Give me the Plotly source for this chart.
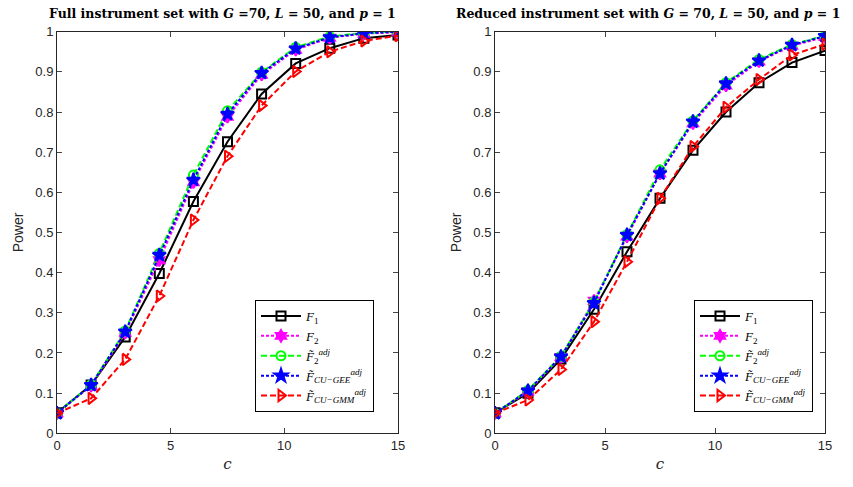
import plotly.graph_objects as go

c_vals = [0, 1.5, 3, 4.5, 6, 7.5, 9, 10.5, 12, 13.5, 15]

# Full instrument set
full_F1 = [0.051, 0.12, 0.24, 0.398, 0.577, 0.726, 0.845, 0.921, 0.959, 0.984, 0.992]
full_F2 = [0.05, 0.118, 0.25, 0.431, 0.625, 0.788, 0.893, 0.955, 0.985, 0.995, 0.999]
full_F2adj = [0.05, 0.121, 0.255, 0.448, 0.643, 0.803, 0.899, 0.961, 0.988, 0.997, 1.0]
full_GEE = [0.05, 0.12, 0.253, 0.444, 0.631, 0.795, 0.897, 0.958, 0.986, 0.996, 1.0]
full_GMM = [0.05, 0.087, 0.184, 0.342, 0.531, 0.69, 0.816, 0.901, 0.95, 0.977, 0.99]

# Reduced instrument set
red_F1 = [0.051, 0.1, 0.185, 0.309, 0.452, 0.585, 0.705, 0.80, 0.873, 0.923, 0.953]
red_F2 = [0.05, 0.104, 0.19, 0.33, 0.49, 0.647, 0.772, 0.866, 0.926, 0.965, 0.987]
red_F2adj = [0.05, 0.107, 0.192, 0.327, 0.495, 0.656, 0.778, 0.873, 0.931, 0.968, 0.99]
red_GEE = [0.05, 0.106, 0.191, 0.324, 0.494, 0.647, 0.776, 0.871, 0.928, 0.967, 0.989]
red_GMM = [0.05, 0.083, 0.159, 0.278, 0.427, 0.585, 0.714, 0.812, 0.881, 0.942, 0.969]

labels = [
    "<i>F</i><sub>1</sub>",
    "<i>F</i><sub>2</sub>",
    "<i>F\u0303</i><sub>2</sub><sup><i>adj</i></sup>",
    "<i>F\u0303</i><sub><i>CU\u2212GEE</i></sub><sup><i>adj</i></sup>",
    "<i>F\u0303</i><sub><i>CU\u2212GMM</i></sub><sup><i>adj</i></sup>",
]
x_title = "<i>c</i>"
y_title = "Power"
titles = [
    "<b>Full instrument set with <i>G</i> =70, <i>L</i> = 50, and <i>p</i> = 1</b>",
    "<b>Reduced instrument set with <i>G</i> = 70, <i>L</i> = 50, and <i>p</i> = 1</b>",
]

styles = [
    dict(color="black", dash="solid", symbol="square-open", size=9, width=2),
    dict(color="#FF00FF", dash="3px,2px", symbol="hexagram", size=9, width=2),
    dict(color="#00FF00", dash="6px,3px", symbol="circle-open", size=9, width=2),
    dict(color="#0000FF", dash="3px,2px", symbol="star", size=10, width=2),
    dict(color="#FF0000", dash="6px,3px", symbol="triangle-right-open", size=10, width=2),
]

fig = go.Figure()
panels = [
    ([full_F1, full_F2, full_F2adj, full_GEE, full_GMM], "x", "y", "legend"),
    ([red_F1, red_F2, red_F2adj, red_GEE, red_GMM], "x2", "y2", "legend2"),
]
for series, xa, ya, lg in panels:
    for vals, lab, st in zip(series, labels, styles):
        fig.add_trace(go.Scatter(
            x=c_vals, y=vals, mode="lines+markers", name=lab,
            xaxis=xa, yaxis=ya, legend=lg,
            line=dict(color=st["color"], dash=st["dash"], width=st["width"]),
            marker=dict(symbol=st["symbol"], size=st["size"], color=st["color"],
                        line=dict(color=st["color"], width=2)),
        ))

tick_font = dict(family="Liberation Sans, Arial, sans-serif", size=13, color="#262626")
ax_common = dict(
    range=[0, 15], tickvals=[0, 5, 10, 15], ticks="inside", ticklen=5,
    showline=True, linecolor="#262626", linewidth=1, mirror="ticks",
    showgrid=False, zeroline=False, tickfont=tick_font, automargin=False,
)
ay_common = dict(
    range=[0, 1], tickvals=[i / 10 for i in range(11)],
    ticktext=["0", "0.1", "0.2", "0.3", "0.4", "0.5", "0.6", "0.7", "0.8", "0.9", "1"],
    ticks="inside", ticklen=5,
    showline=True, linecolor="#262626", linewidth=1, mirror="ticks",
    showgrid=False, zeroline=False, tickfont=tick_font, automargin=False,
)

title_font_axis = dict(family="Liberation Sans, Arial, sans-serif", size=14, color="#262626")
cfont = dict(family="DejaVu Serif, serif", size=15, color="#262626")

leg_common = dict(
    bgcolor="white", bordercolor="black", borderwidth=1,
    font=dict(family="Liberation Serif, Times New Roman, serif", size=13, color="black"),
    xanchor="right", yanchor="bottom", tracegroupgap=0,
    itemwidth=40,
)

title_font = dict(family="DejaVu Serif, serif", size=12.5, color="black")

fig.update_layout(
    width=853, height=487,
    margin=dict(l=0, r=0, t=0, b=0, autoexpand=False),
    paper_bgcolor="white", plot_bgcolor="white",
    xaxis=dict(domain=[57 / 853, 398 / 853], anchor="y", title=dict(text=x_title, font=cfont, standoff=6), **ax_common),
    yaxis=dict(domain=[53.7 / 487, 455.3 / 487], anchor="x", title=dict(text=y_title, font=title_font_axis, standoff=8), **ay_common),
    xaxis2=dict(domain=[495 / 853, 825 / 853], anchor="y2", title=dict(text=x_title, font=cfont, standoff=6), **ax_common),
    yaxis2=dict(domain=[53.7 / 487, 455.3 / 487], anchor="x2", title=dict(text=y_title, font=title_font_axis, standoff=8), **ay_common),
    legend=dict(x=374 / 853, y=75 / 487, **leg_common),
    legend2=dict(x=813 / 853, y=75 / 487, **leg_common),
    showlegend=True,
    annotations=[
        dict(text=titles[0], x=222 / 853, y=1 - 14 / 487, xref="paper", yref="paper",
             showarrow=False, xanchor="center", yanchor="middle", font=title_font),
        dict(text=titles[1], x=648 / 853, y=1 - 14 / 487, xref="paper", yref="paper",
             showarrow=False, xanchor="center", yanchor="middle", font=title_font),
    ],
)

fig.write_html("out.html", config={"displayModeBar": False},
               post_script="document.body.style.margin='0';document.body.style.overflow='hidden';")
